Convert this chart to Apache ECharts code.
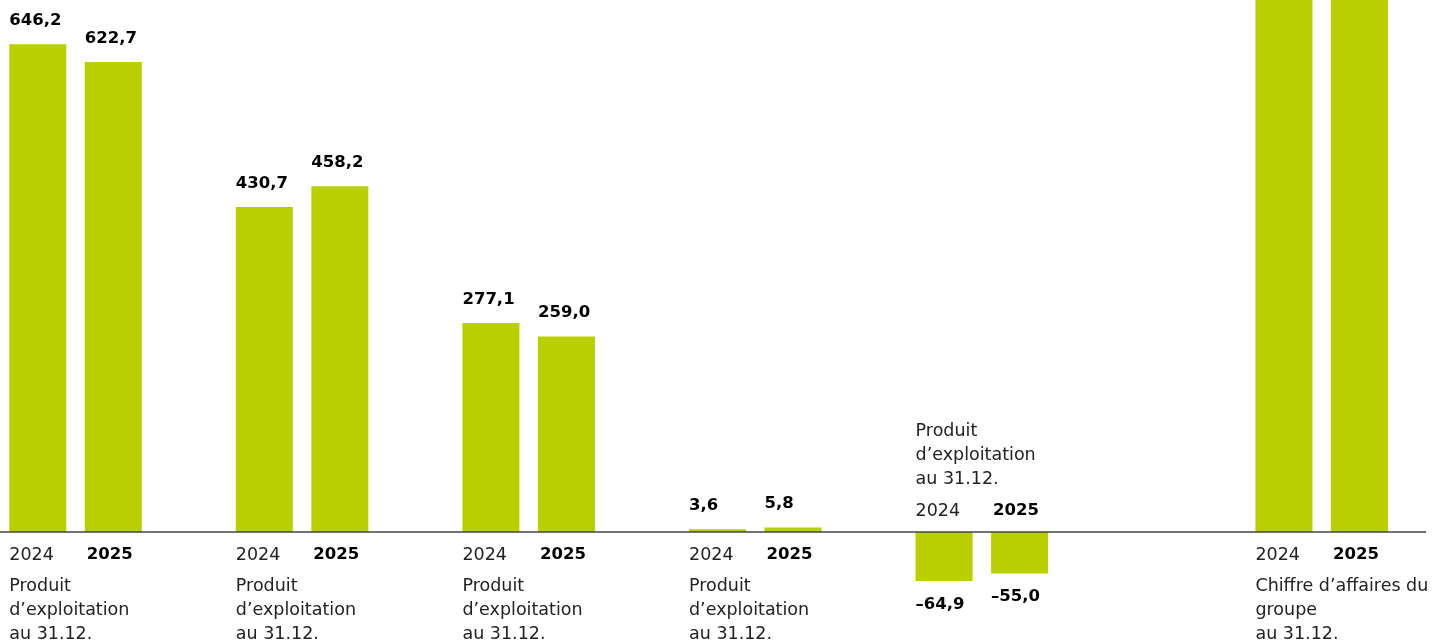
<!DOCTYPE html>
<html>
<head>
<meta charset="utf-8">
<script src="https://cdn.jsdelivr.net/npm/echarts@6/dist/echarts.min.js"></script>
<style>
html,body{margin:0;padding:0;background:#fff;}
#chart{width:1435px;height:641px;}
</style>
</head>
<body>
<div id="chart"></div>
<script>
// ---- data ----
const groupCaptions = [
  'Produit\nd’exploitation\nau 31.12.',
  'Produit\nd’exploitation\nau 31.12.',
  'Produit\nd’exploitation\nau 31.12.',
  'Produit\nd’exploitation\nau 31.12.',
  'Produit\nd’exploitation\nau 31.12.',
  'Chiffre d’affaires du\ngroupe\nau 31.12.'
];
const years = ['2024', '2025'];
const values2024 = [646.2, 430.7, 277.1, 3.6, -64.9, 1292.7];
const values2025 = [622.7, 458.2, 259.0, 5.8, -55.0, 1290.7];

// ---- layout (slot positions on a fine category axis) ----
const SLOT_COUNT = 39;
const slot2024 = [1, 7, 13, 19, 25, 34];
const slotOffset2025 = 2;
const BAR_W = 57;
const BAR_COLOR = '#b9cf00';
const FONT = '"DejaVu Sans", "Liberation Sans", sans-serif';

const cats = Array.from({length: SLOT_COUNT}, (_, i) => 's' + i);

function fmt(v) {
  return (v < 0 ? '–' : '') + Math.abs(v).toFixed(1).replace('.', ',');
}

function buildBarData(values, offset) {
  const arr = new Array(SLOT_COUNT).fill(null);
  values.forEach((v, g) => {
    arr[slot2024[g] + offset] = {
      value: v,
      label: v < 0 ? { position: 'bottom' } : { position: 'top' }
    };
  });
  return arr;
}

const barLabel = {
  show: true,
  formatter: p => fmt(p.value),
  align: 'left',
  offset: [-BAR_W / 2, 0],
  distance: 15,
  fontFamily: FONT,
  fontWeight: 'bold',
  fontSize: 16.5,
  color: '#000'
};

const textData = values2024.map((v, g) => [slot2024[g], 0, g]);

const chart = echarts.init(document.getElementById('chart'), null, {renderer: 'canvas'});
chart.setOption({
  animation: false,
  backgroundColor: '#fff',
  grid: { left: 0, top: 0, width: 1436, height: 805 * 532 / 705 },
  xAxis: {
    type: 'category',
    data: cats,
    boundaryGap: false,
    axisLine: { show: false },
    axisTick: { show: false },
    axisLabel: { show: false },
    splitLine: { show: false }
  },
  yAxis: {
    type: 'value',
    min: -100,
    max: 705,
    show: false,
    splitLine: { show: false }
  },
  series: [
    {
      name: years[0],
      type: 'bar',
      barWidth: BAR_W,
      barGap: '-100%',
      itemStyle: { color: BAR_COLOR },
      label: barLabel,
      data: buildBarData(values2024, 0)
    },
    {
      name: years[1],
      type: 'bar',
      barWidth: BAR_W,
      barGap: '-100%',
      itemStyle: { color: BAR_COLOR },
      label: barLabel,
      data: buildBarData(values2025, slotOffset2025)
    },
    {
      type: 'custom',
      clip: false,
      silent: true,
      z: 3,
      encode: { x: 0, y: 1 },
      data: textData,
      renderItem: function (params, api) {
        const g = api.value(2);
        const p1 = api.coord([api.value(0), 0]);
        const p2 = api.coord([api.value(0) + slotOffset2025, 0]);
        const left1 = p1[0] - BAR_W / 2;
        const left2 = p2[0] - BAR_W / 2 + 2;
        const y0 = p1[1];
        const below = values2024[g] >= 0;
        const yearY = below ? y0 + 23 : y0 - 21;
        const children = [];
        if (params.dataIndex === 0) {
          // baseline: from the grid's left edge to one bar-slot past the last bar
          const last = values2024.length - 1;
          const pl = api.coord([slot2024[last] + slotOffset2025, 0]);
          const cs = params.coordSys;
          children.push({ type: 'line', shape: { x1: cs.x, y1: y0, x2: pl[0] + BAR_W / 2 + 38, y2: y0 },
            style: { stroke: '#444', lineWidth: 1.5 } });
        }
        children.push(
          { type: 'text', style: { x: left1, y: yearY, text: years[0], fill: '#222',
              font: '17.5px ' + FONT, textAlign: 'left', textVerticalAlign: 'middle' } },
          { type: 'text', style: { x: left2, y: yearY, text: years[1], fill: '#000',
              font: 'bold 16.5px ' + FONT, textAlign: 'left', textVerticalAlign: 'middle' } }
        );
        const lines = groupCaptions[g].split('\n');
        lines.forEach((ln, i) => {
          const cy = below ? y0 + 54 + i * 24 : y0 - 101 + i * 24;
          children.push({ type: 'text', style: { x: left1, y: cy, text: ln, fill: '#222',
            font: '17.5px ' + FONT, textAlign: 'left', textVerticalAlign: 'middle' } });
        });
        return { type: 'group', children: children };
      }
    }
  ]
});
</script>
</body>
</html>
